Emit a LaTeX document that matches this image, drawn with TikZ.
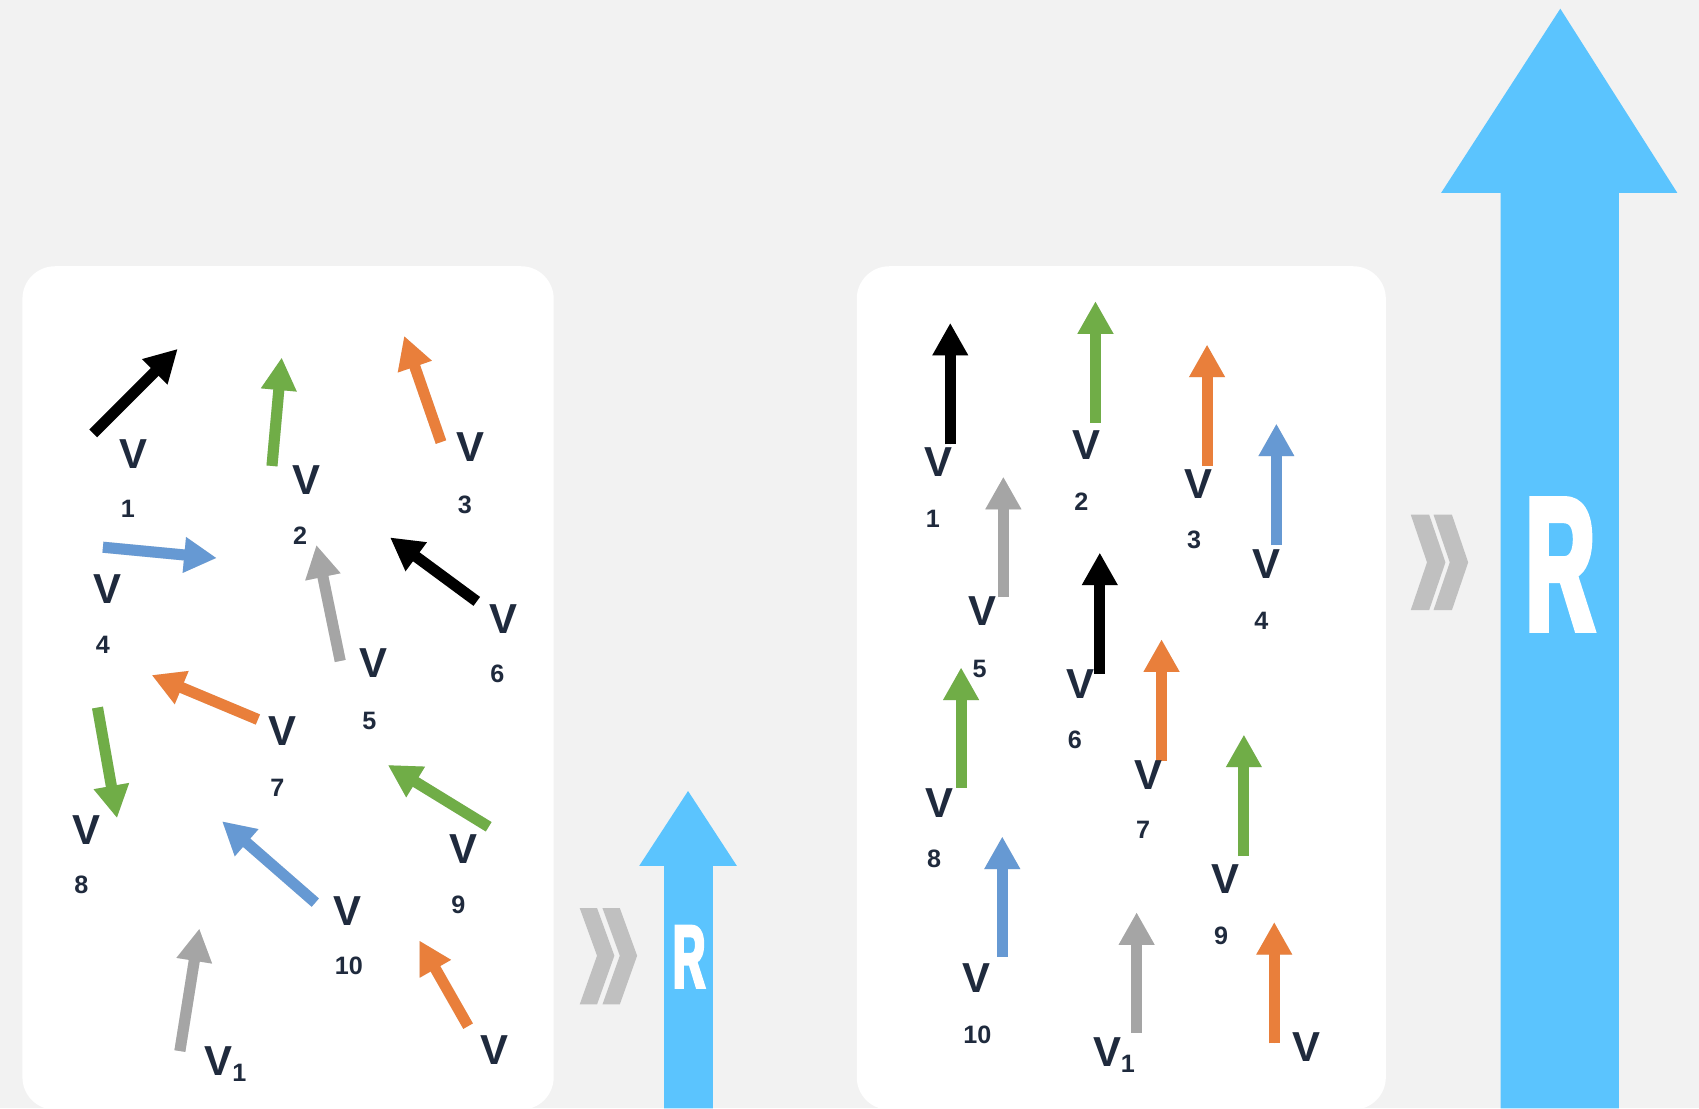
\documentclass[tikz,border=0pt]{standalone}
\usepackage{fontspec}
\setmainfont{Liberation Sans}
\newfontfamily\rfont[FakeStretch=0.5, BoldFeatures={FakeBold=3}]{Liberation Sans}
\usetikzlibrary{arrows.meta}
\definecolor{bg}{HTML}{F2F2F2}
\definecolor{vblack}{HTML}{000000}
\definecolor{vgreen}{HTML}{70AD47}
\definecolor{vorange}{HTML}{E97F3B}
\definecolor{vblue}{HTML}{6699D3}
\definecolor{vgray}{HTML}{A5A5A5}
\definecolor{lbl}{HTML}{1F2A3D}
\definecolor{rblue}{HTML}{5BC4FE}
\definecolor{chev}{HTML}{C0C0C0}
\tikzset{
  vec/.style={line width=2.9pt, -{Triangle[length=0.3cm,width=0.31cm]}},
  vshadow/.style={vec, draw=black, opacity=0.13, shift={(2,3)}},
  vlab/.style={font=\bfseries\fontsize{11}{11}\selectfont, text=lbl, inner sep=0pt},
  nlab/.style={font=\bfseries\fontsize{6.6}{6.6}\selectfont, text=lbl, inner sep=0pt},
  panel/.style={fill=white, draw=none, rounded corners=0.3cm},
  chevron/.style={fill=chev, draw=none},
  bigarrow/.style={fill=rblue, draw=none},
  rlabel/.style={text=white, inner sep=0pt},
}
\newcommand{\vecarr}[5]{% name, color, tail, tip
  \coordinate (#1a) at (#3);
  \coordinate (#1b) at (#4);
  \draw[vshadow] (#1a) -- (#1b);
  \draw[vec, draw=#2, fill=#2] (#1a) -- (#1b);
}
\begin{document}
\begin{tikzpicture}[x=0.01cm, y=-0.01cm]
\useasboundingbox (0,0) rectangle (1568,1023);
\fill[bg] (0,0) rectangle (1568,1023);

% panels
\node[panel, minimum width=4.9cm, minimum height=7.78cm, anchor=north west] (leftpanel) at (20,245) {};
\node[panel, minimum width=4.88cm, minimum height=7.78cm, anchor=north west] (rightpanel) at (790,245) {};

% ---------- left panel vectors ----------
\vecarr{L1}{vblack}{86,400}{164,322}{}
\vecarr{L2}{vgreen}{251,430}{260,330}{}
\vecarr{L3}{vorange}{407,408}{373,310}{}
\vecarr{L4}{vblue}{95,505}{200,515}{}
\vecarr{L5}{vgray}{314,610}{292,503}{}
\vecarr{L6}{vblack}{440,555}{360,496}{}
\vecarr{L7}{vorange}{238,664}{140,623}{}
\vecarr{L8}{vgreen}{90,653}{108,755}{}
\vecarr{L9}{vgreen}{451,763}{358,706}{}
\vecarr{L10}{vblue}{291,833}{205,758}{}
\vecarr{L11}{vgray}{166,970}{184,857}{}
\vecarr{L12}{vorange}{432,947}{387,868}{}

\node[vlab] (LV1) at (123,419) {V};  \node[nlab] (LN1) at (118,470) {1};
\node[vlab] (LV2) at (283,443) {V};  \node[nlab] (LN2) at (277,494) {2};
\node[vlab] (LV3) at (434,413) {V};  \node[nlab] (LN3) at (429,466) {3};
\node[vlab] (LV4) at (99,544) {V};   \node[nlab] (LN4) at (95,595) {4};
\node[vlab] (LV5) at (345,612) {V};  \node[nlab] (LN5) at (341,665) {5};
\node[vlab] (LV6) at (465,571) {V};  \node[nlab] (LN6) at (459,622) {6};
\node[vlab] (LV7) at (261,675) {V};  \node[nlab] (LN7) at (256,727) {7};
\node[vlab] (LV8) at (80,766) {V};   \node[nlab] (LN8) at (75,817) {8};
\node[vlab] (LV9) at (428,784) {V};  \node[nlab] (LN9) at (423,835) {9};
\node[vlab] (LV10) at (321,841) {V}; \node[nlab] (LN10) at (322,891) {10};
\node[vlab] (LV11) at (202,979) {V}; \node[nlab] (LN11) at (221,990) {1};
\node[vlab] (LV12) at (456,969) {V};

% ---------- right panel vectors ----------
\vecarr{R1}{vblack}{877,410}{877,298}{}
\vecarr{R2}{vgreen}{1011,390}{1011,278}{}
\vecarr{R3}{vorange}{1114,430}{1114,318}{}
\vecarr{R4}{vblue}{1178,503}{1178,391}{}
\vecarr{R5}{vgray}{926,551}{926,440}{}
\vecarr{R6}{vblack}{1015,622}{1015,510}{}
\vecarr{R7}{vorange}{1072,702}{1072,590}{}
\vecarr{R8}{vgreen}{887,727}{887,616}{}
\vecarr{R9}{vgreen}{1148,790}{1148,678}{}
\vecarr{R10}{vblue}{925,883}{925,772}{}
\vecarr{R11}{vgray}{1049,953}{1049,842}{}
\vecarr{R12}{vorange}{1176,963}{1176,851}{}

\node[vlab] (RV1) at (866,426) {V};   \node[nlab] (RN1) at (861,479) {1};
\node[vlab] (RV2) at (1003,411) {V};  \node[nlab] (RN2) at (998,463) {2};
\node[vlab] (RV3) at (1106,447) {V};  \node[nlab] (RN3) at (1102,498) {3};
\node[vlab] (RV4) at (1169,521) {V};  \node[nlab] (RN4) at (1164,573) {4};
\node[vlab] (RV5) at (907,564) {V};   \node[nlab] (RN5) at (904,617) {5};
\node[vlab] (RV6) at (997,631) {V};   \node[nlab] (RN6) at (992,683) {6};
\node[vlab] (RV7) at (1060,715) {V};  \node[nlab] (RN7) at (1055,766) {7};
\node[vlab] (RV8) at (867,741) {V};   \node[nlab] (RN8) at (862,793) {8};
\node[vlab] (RV9) at (1131,811) {V};  \node[nlab] (RN9) at (1127,864) {9};
\node[vlab] (RV10) at (901,903) {V};  \node[nlab] (RN10) at (902,955) {10};
\node[vlab] (RV11) at (1022,971) {V}; \node[nlab] (RN11) at (1041,982) {1};
\node[vlab] (RV12) at (1206,966) {V};

% ---------- small result arrow ----------
\fill[chevron] (535,838) -- (551,838) -- (567,882) -- (551,927) -- (535,927) -- (551,882) -- cycle;
\fill[chevron] (556,838) -- (572,838) -- (588,882) -- (572,927) -- (556,927) -- (572,882) -- cycle;
\fill[bigarrow] (613,1023) -- (613,799) -- (590,799) -- (635,730) -- (680,799) -- (658,799) -- (658,1023) -- cycle;
\node[rlabel, font=\rfont\bfseries\fontsize{23.5}{23.5}\selectfont] (smallR) at (636,883) {R};

% ---------- big result arrow ----------
\fill[chevron] (1302,475) -- (1319,475) -- (1334,519) -- (1319,563) -- (1302,563) -- (1317,519) -- cycle;
\fill[chevron] (1323,475) -- (1340,475) -- (1355,519) -- (1340,563) -- (1323,563) -- (1338,519) -- cycle;
\fill[bigarrow] (1385,1023) -- (1385,178) -- (1330,178) -- (1440,8) -- (1548,178) -- (1494,178) -- (1494,1023) -- cycle;
\node[rlabel, font=\rfont\bfseries\fontsize{50}{50}\selectfont] (bigR) at (1440,521) {R};
\end{tikzpicture}
\end{document}
